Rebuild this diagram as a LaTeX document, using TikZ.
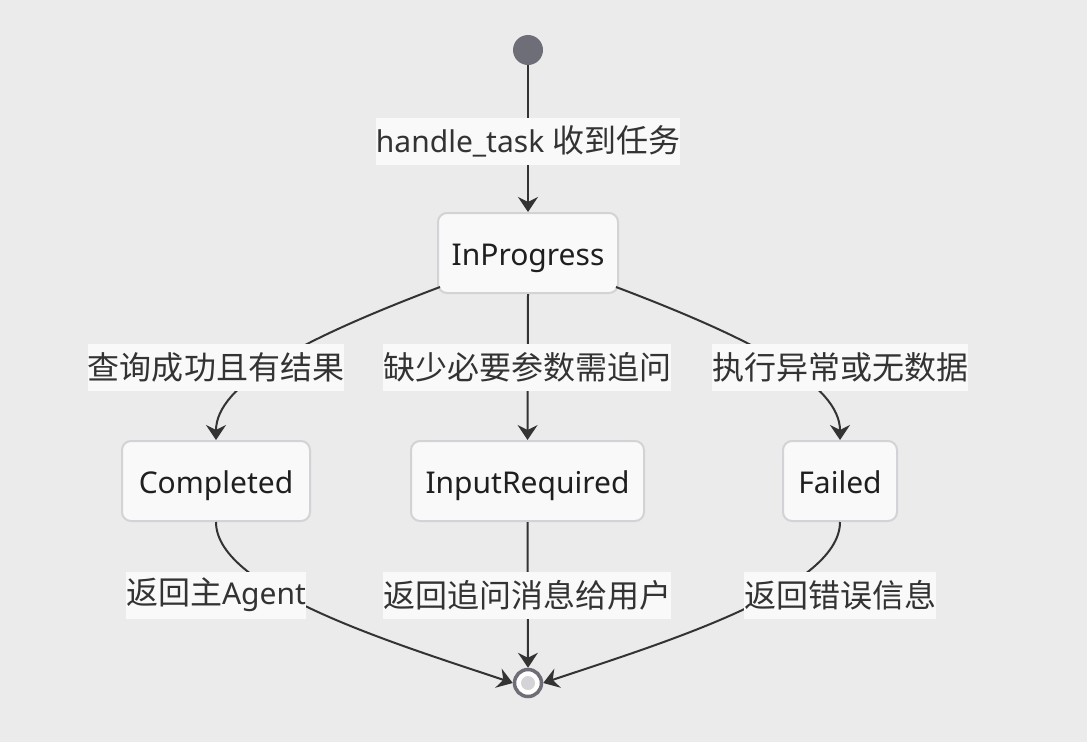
\documentclass[tikz,border=0pt]{standalone}
\usepackage{fontspec}
\setmainfont{Noto Sans}
\newfontfamily\cjk[Scale=1.0667]{Noto Sans CJK SC}
\usetikzlibrary{arrows.meta}
\definecolor{bg}{HTML}{EBEBEB}
\definecolor{boxfill}{HTML}{F9F9F9}
\definecolor{boxline}{HTML}{D3D3D7}
\definecolor{edge}{HTML}{333333}
\definecolor{startc}{HTML}{6E6E78}
\definecolor{endin}{HTML}{D3D3D8}
\begin{document}
\begin{tikzpicture}[x=1pt,y=-1pt,
  state/.style={draw=boxline,line width=2pt,fill=boxfill,rounded corners=9pt,
    minimum height=80pt,inner xsep=0pt,text height=31pt,text depth=7pt,
    font=\fontsize{30}{36}\selectfont,text=black!88},
  elabel/.style={fill=boxfill,inner xsep=0pt,inner ysep=0pt,minimum height=47pt,
    font=\fontsize{30}{36}\selectfont,text=edge},
  conn/.style={draw=edge,line width=2pt,-{Stealth[length=15pt,width=20pt,inset=5pt]}},
  plain/.style={draw=edge,line width=2pt}]
\fill[bg] (0,0) rectangle (1087,742);
\useasboundingbox (0,0) rectangle (1087,742);

% start / end
\node[circle,fill=startc,minimum size=30pt,inner sep=0pt] (start) at (528,50) {};
\node[circle,draw=startc,line width=3.5pt,fill=white,minimum size=27pt,inner sep=0pt] (end) at (528,683) {};
\node[circle,fill=endin,minimum size=14pt,inner sep=0pt] (endc) at (528,683) {};

% states
\node[state,minimum width=180pt] (inp) at (528,253) {InProgress};
\node[state,minimum width=188pt] (comp) at (216,481) {Completed};
\node[state,minimum width=233pt] (ireq) at (527.5,481) {InputRequired};
\node[state,minimum width=114pt] (fail) at (840,481) {Failed};

% edges
\draw[conn] (start) -- (inp);
\draw[conn] (440,287) .. controls (300,340) and (216,385) .. (comp.north);
\draw[conn] (inp.south) -- (ireq.north);
\draw[conn] (616,287) .. controls (756,340) and (840,385) .. (fail.north);
\draw[conn] (comp.south) .. controls (216,590) and (400,645) .. (end.west);
\draw[conn] (ireq.south) -- (end.north);
\draw[conn] (fail.south) .. controls (840,590) and (656,645) .. (end.east);

% labels
\node[elabel] (l0) at (528,141) {handle\_task {\cjk 收到任务}};
\node[elabel] (l1) at (216,367) {\cjk 查询成功且有结果};
\node[elabel] (l2) at (527,367) {\cjk 缺少必要参数需追问};
\node[elabel] (l3) at (840,367) {\cjk 执行异常或无数据};
\node[elabel] (l4) at (216,595) {{\cjk 返回主}Agent};
\node[elabel] (l5) at (527,595) {\cjk 返回追问消息给用户};
\node[elabel] (l6) at (840,595) {\cjk 返回错误信息};
\end{tikzpicture}
\end{document}
